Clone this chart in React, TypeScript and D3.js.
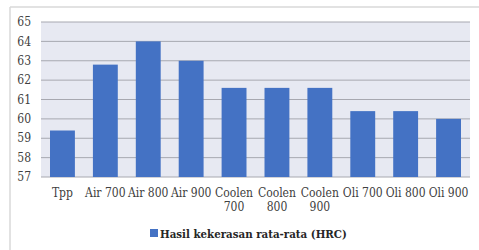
import React from "react";
import * as d3 from "d3";

const categories = [
	["Tpp"],
	["Air 700"],
	["Air 800"],
	["Air 900"],
	["Coolen", "700"],
	["Coolen", "800"],
	["Coolen", "900"],
	["Oli 700"],
	["Oli 800"],
	["Oli 900"],
];
const hardness = [59.4, 62.8, 64.0, 63.0, 61.6, 61.6, 61.6, 60.4, 60.4, 60.0];
const yTicks = [57, 58, 59, 60, 61, 62, 63, 64, 65];
const seriesName = "Hasil kekerasan rata-rata (HRC)";

export default function App() {
	const width = 479;
	const height = 250;
	const left = 41;
	const right = 470;
	const top = 22;
	const bottom = 177;

	const x = d3
		.scaleBand<number>()
		.domain(d3.range(categories.length))
		.range([left, right])
		.paddingInner(0.42)
		.paddingOuter(0.21);
	const y = d3.scaleLinear().domain([57, 65]).range([bottom, top]);

	const textStyle = {
		fontFamily: "'DejaVu Serif Condensed', 'DejaVu Serif', serif",
		fontStretch: "condensed",
		fontSize: 12,
	};

	return (
		<svg
			width={width}
			height={height}
			style={{ position: "absolute", left: 0, top: 0, background: "#fff" }}
		>
			{/* outer frame */}
			<line x1={10} x2={width} y1={7} y2={7} stroke="#d9d9d9" strokeWidth={1.5} />
			<line x1={10} x2={10} y1={7} y2={height} stroke="#d9d9d9" strokeWidth={1.5} />

			{/* plot background */}
			<rect x={left} y={top} width={right - left} height={bottom - top} fill="#e7e9f2" />

			{/* grid */}
			{yTicks.map((t) => (
				<line key={t} x1={left} x2={right} y1={y(t)} y2={y(t)} stroke="#a7a8b0" strokeWidth={1} />
			))}

			{/* y labels */}
			{yTicks.map((t) => (
				<text key={t} x={31} y={y(t)} dy="0.35em" textAnchor="end" style={textStyle} fill="#404040">
					{t}
				</text>
			))}

			{/* bars */}
			{hardness.map((v, i) => (
				<rect
					key={i}
					x={x(i)}
					y={y(v)}
					width={x.bandwidth()}
					height={y(57) - y(v)}
					fill="#4472c4"
				/>
			))}

			{/* x labels */}
			{categories.map((lines, i) => (
				<text
					key={i}
					x={(x(i) ?? 0) + x.bandwidth() / 2}
					y={197}
					textAnchor="middle"
					style={textStyle}
					fill="#404040"
				>
					{lines.map((s, j) => (
						<tspan key={j} x={(x(i) ?? 0) + x.bandwidth() / 2} dy={j === 0 ? 0 : 14}>
							{s}
						</tspan>
					))}
				</text>
			))}

			{/* legend */}
			<rect x={150} y={229} width={8} height={8} fill="#4472c4" />
			<text x={160} y={238} style={{ ...textStyle, fontSize: 11.4, fontWeight: "bold" }} fill="#262626">
				{seriesName}
			</text>
		</svg>
	);
}
